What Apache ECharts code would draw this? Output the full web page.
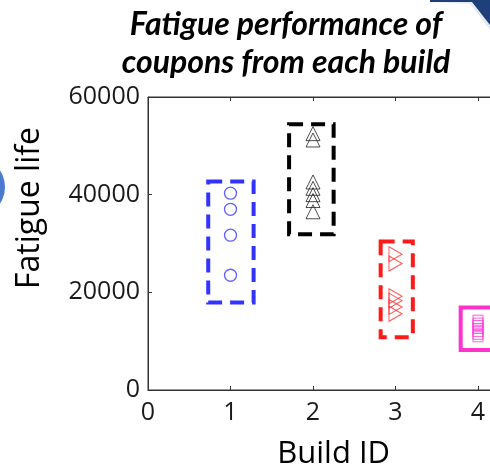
<!DOCTYPE html>
<html>
<head>
<meta charset="utf-8">
<script src="https://cdn.jsdelivr.net/npm/echarts@6/dist/echarts.min.js"></script>
<style>html,body{margin:0;padding:0;background:#fff;}#c{width:490px;height:465px;}</style>
</head>
<body>
<div id="c"></div>
<script>
// ---- data ----
var titleLines = ['Fatigue performance of', 'coupons from each build'];
var xName = 'Build ID';
var yName = 'Fatigue life';
var xTicks = [0, 1, 2, 3, 4];
var yTicks = [0, 20000, 40000, 60000];
var buildIds = [1, 2, 3, 4];
var build1 = [40300, 37000, 31700, 23500];
var build2 = [52500, 51200, 42600, 41300, 40000, 38800, 36500];
var build3 = [27800, 25900, 19200, 18300, 17000, 15600];
var build4 = [14300, 13700, 13200, 12600, 12000, 11400, 10900];
var boxLeft = [0.73, 1.71, 2.82, 3.79];
var boxRight = [1.28, 2.25, 3.21, 4.21];
var boxLow = [17900, 31900, 10800, 8200];
var boxHigh = [42700, 54400, 30400, 16900];

var colors = ['#3333ff', '#000000', '#ff1a1a', '#ff33cc'];
var markerColors = ['#3b3bff', '#222222', '#ff2a2a', '#ff33dd'];

function pts(x, arr) { return arr.map(function (v) { return [x, v]; }); }

var chart = echarts.init(document.getElementById('c'), null, {renderer: 'canvas'});
var tfont = 'Lato, "Open Sans", sans-serif';
var font = '"Open Sans", "Noto Sans", sans-serif';

var boxData = buildIds.map(function (b, i) { return [boxLeft[i], boxRight[i], boxLow[i], boxHigh[i], i]; });

var option = {
  animation: false,
  backgroundColor: '#ffffff',
  graphic: [
    {type: 'circle', shape: {cx: -25, cy: 187, r: 30}, style: {fill: '#4a7bd0'}, z: 0},
    {type: 'polygon', shape: {points: [[430, 0], [490, 0], [490, 30], [470, 4], [430, 2]]}, style: {fill: '#e6ebf3'}, z: 0},
    {type: 'polygon', shape: {points: [[430, 0], [490, 0], [490, 25], [472, 2], [430, 2]]}, style: {fill: '#1f3f7a'}, z: 0},
    {type: 'text', x: 286, y: 9, style: {text: titleLines[0], fontFamily: tfont, fontSize: 32, fontWeight: 'bold', fontStyle: 'italic', fill: '#000', align: 'center'}, z: 10},
    {type: 'text', x: 286, y: 47, style: {text: titleLines[1], fontFamily: tfont, fontSize: 32, fontWeight: 'bold', fontStyle: 'italic', fill: '#000', align: 'center'}, z: 10},
    {type: 'text', x: 30, y: 208, rotation: Math.PI / 2, style: {text: yName, fontFamily: font, fontSize: 32, fill: '#000', align: 'center', verticalAlign: 'middle'}, z: 10}
  ],
  grid: {left: 148, top: 97, width: 371.25, height: 293, show: true, borderColor: '#333', borderWidth: 1,
    backgroundColor: 'transparent', containLabel: false, outerBoundsMode: 'none'},
  xAxis: [{
    type: 'value', min: xTicks[0], max: 4.5, interval: 1,
    name: xName, nameLocation: 'middle', nameGap: 49,
    nameTextStyle: {fontFamily: font, fontSize: 31, color: '#000'},
    axisLine: {show: true, onZero: false, lineStyle: {color: '#333', width: 1}},
    axisTick: {show: true, inside: true, length: 4, lineStyle: {color: '#333'}},
    axisLabel: {fontFamily: font, fontSize: 25, color: '#1a1a1a', margin: 10,
      formatter: function (v) { return xTicks.indexOf(v) >= 0 ? String(v) : ''; }},
    splitLine: {show: false}
  }, {
    type: 'value', position: 'top', min: xTicks[0], max: 4.5, interval: 1,
    axisLine: {show: true, onZero: false, lineStyle: {color: '#333', width: 1}},
    axisTick: {show: true, inside: true, length: 4, lineStyle: {color: '#333'}},
    axisLabel: {show: false}, splitLine: {show: false}
  }],
  yAxis: [{
    type: 'value', min: yTicks[0], max: yTicks[yTicks.length - 1], interval: 20000,
    axisLine: {show: true, onZero: false, lineStyle: {color: '#333', width: 1}},
    axisTick: {show: true, inside: true, length: 4, lineStyle: {color: '#333'}},
    axisLabel: {fontFamily: font, fontSize: 25, color: '#1a1a1a', margin: 8,
      formatter: function (v) { return yTicks.indexOf(v) >= 0 ? String(v) : ''; }},
    splitLine: {show: false}
  }],
  series: [
    {
      type: 'custom', xAxisIndex: 0, yAxisIndex: 0, data: boxData, z: 2, clip: false,
      renderItem: function (params, api) {
        var p0 = api.coord([api.value(0), api.value(3)]);
        var p1 = api.coord([api.value(1), api.value(2)]);
        var i = api.value(4);
        return {
          type: 'rect',
          shape: {x: p0[0], y: p0[1], width: p1[0] - p0[0], height: p1[1] - p0[1]},
          style: {fill: 'none', stroke: colors[i], lineWidth: 4, lineDash: i === 3 ? null : [14, 8]}
        };
      }
    },
    {type: 'scatter', data: pts(buildIds[0], build1), symbol: 'circle', symbolSize: 12,
      itemStyle: {color: 'rgba(0,0,0,0)', borderColor: markerColors[0], borderWidth: 1.3}, z: 3},
    {type: 'scatter', data: pts(buildIds[1], build2), symbol: 'path://M5,0 L10,10 L0,10 Z', symbolSize: [14, 14],
      itemStyle: {color: 'rgba(0,0,0,0)', borderColor: markerColors[1], borderWidth: 1}, z: 3},
    {type: 'scatter', data: pts(buildIds[2], build3), symbol: 'path://M0,0 L10,5 L0,10 Z', symbolSize: [13, 15],
      itemStyle: {color: 'rgba(0,0,0,0)', borderColor: markerColors[2], borderWidth: 1}, z: 3},
    {type: 'scatter', data: pts(buildIds[3], build4), symbol: 'rect', symbolSize: [10, 10],
      itemStyle: {color: 'rgba(0,0,0,0)', borderColor: markerColors[3], borderWidth: 1}, z: 3}
  ]
};
chart.setOption(option);
</script>
</body>
</html>
